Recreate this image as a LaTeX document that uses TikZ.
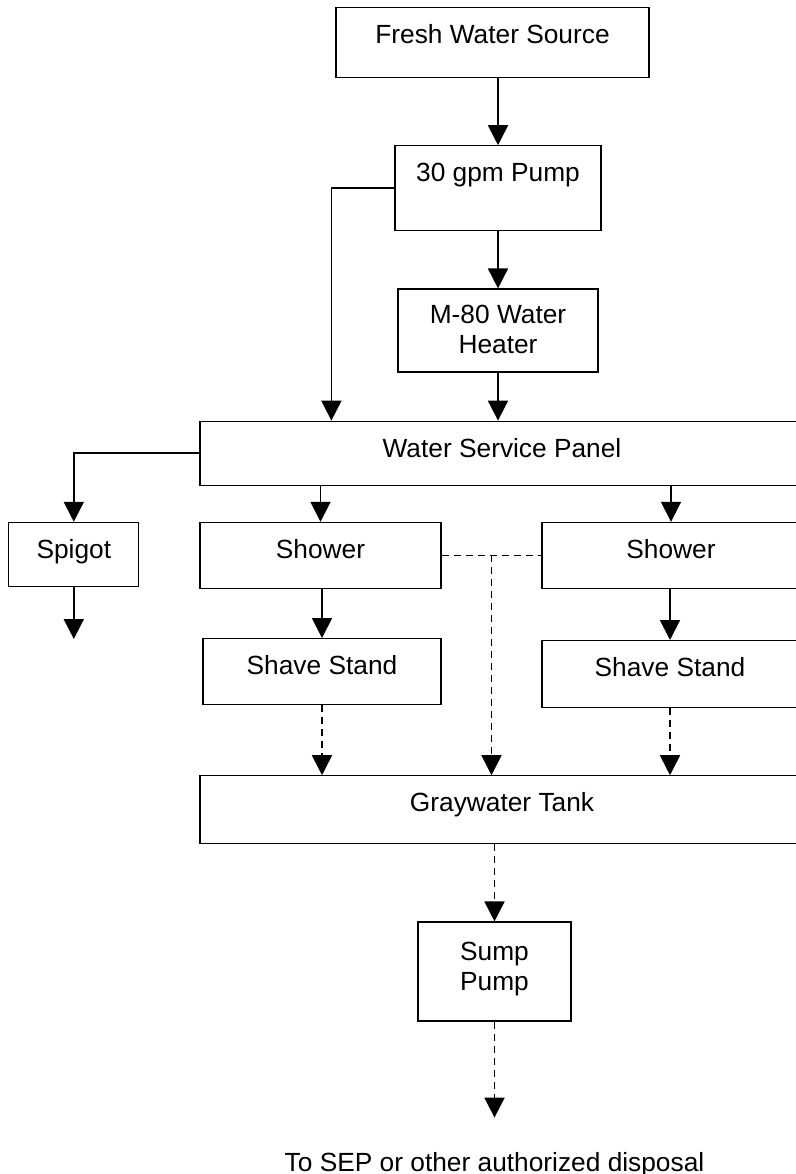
\documentclass[tikz,border=0pt]{standalone}
\usepackage{fontspec}
\setmainfont{Liberation Sans}
\usetikzlibrary{positioning, arrows.meta, calc}

\begin{document}
\begin{tikzpicture}[
      x=0.5pt, y=-0.5pt,
      font=\fontsize{13.15pt}{15pt}\selectfont,
      box/.style={draw, line width=0.6pt, align=center, inner xsep=2pt, inner ysep=0pt, text height=18pt},
      line/.style={-{Triangle[width=10pt, length=10pt]}, line width=0.9pt},
      dashline/.style={line, dash pattern=on 3.5pt off 2.5pt}
    ]
    \clip (0,0) rectangle (796,1174);
    \fill[white] (0,0) rectangle (796,1174);
    \node[box, minimum width=156.5pt, text depth=17pt, anchor=north] (source) at (492.5,7) {Fresh Water Source};
    \node[box, minimum width=103pt, text depth=24.5pt, below=33.5pt of source, xshift=2.75pt] (pump) {30 gpm Pump};
    \node[box, minimum width=100pt, text height=32pt, text depth=9.5pt, below=28.5pt of pump] (heater) {M-80 Water\\Heater};
    \node[box, minimum width=302pt, text depth=14pt, below=24pt of heater, xshift=2pt] (panel) {Water Service Panel};
    \node[box, minimum width=120.5pt, text depth=15pt, below=18pt of panel.south west, anchor=north west] (showerl) {Shower};
    \node[box, minimum width=129pt, text depth=15pt, below=18pt of panel.south east, anchor=north east, xshift=-2pt] (showerr) {Shower};
    \node[box, minimum width=65pt, text depth=14pt, left=30pt of showerl.north west, anchor=north east] (spigot) {Spigot};
    \node[box, minimum width=119pt, text depth=15pt, below=24.5pt of showerl.south west, anchor=north west, xshift=1.5pt] (shavel) {Shave Stand};
    \node[box, minimum width=128pt, text depth=15.5pt, below=25.5pt of showerr.south west, anchor=north west] (shaver) {Shave Stand};
    \node[box, minimum width=302pt, text depth=16pt, below=35pt of shavel.south west, anchor=north west, xshift=-1.5pt] (tank) {Graywater Tank};
    \node[box, minimum width=76.5pt, text height=34pt, text depth=15.5pt, below=38.5pt of tank, xshift=-3.75pt] (sump) {Sump\\Pump};
    \node[inner sep=0pt, below=65pt of sump] (disposal) {To SEP or other authorized disposal};
    \coordinate[right=66pt of panel.north west] (bypass);
    \coordinate[below=26pt of spigot] (spout);
    \coordinate[below=48pt of sump] (drain);
    \coordinate (collect) at ($(showerl.east)!0.5!(showerr.west)$);
    \draw[line] (source.south -| pump.north) -- (pump.north);
    \draw[line] (pump) -- (heater);
    \draw[line] (pump.west) -| (bypass);
    \draw[line] (heater) -- (heater.south |- panel.north);
    \draw[line] (panel.west) -| (spigot.north);
    \draw[line] (spigot) -- (spout);
    \draw[line] (panel.south -| showerl.north) -- (showerl.north);
    \draw[line] (panel.south -| showerr.north) -- (showerr.north);
    \draw[line] (showerl.south -| shavel.north) -- (shavel.north);
    \draw[line] (showerr.south -| shaver.north) -- (shaver.north);
    \draw[dashline, -] (showerl.east) -- (showerr.west);
    \draw[dashline] (collect) -- (collect |- tank.north);
    \draw[dashline] (shavel) -- (shavel.south |- tank.north);
    \draw[dashline] (shaver) -- (shaver.south |- tank.north);
    \draw[dashline] (tank.south -| sump.north) -- (sump.north);
    \draw[dashline] (sump) -- (drain);
  \end{tikzpicture}
\end{document}
